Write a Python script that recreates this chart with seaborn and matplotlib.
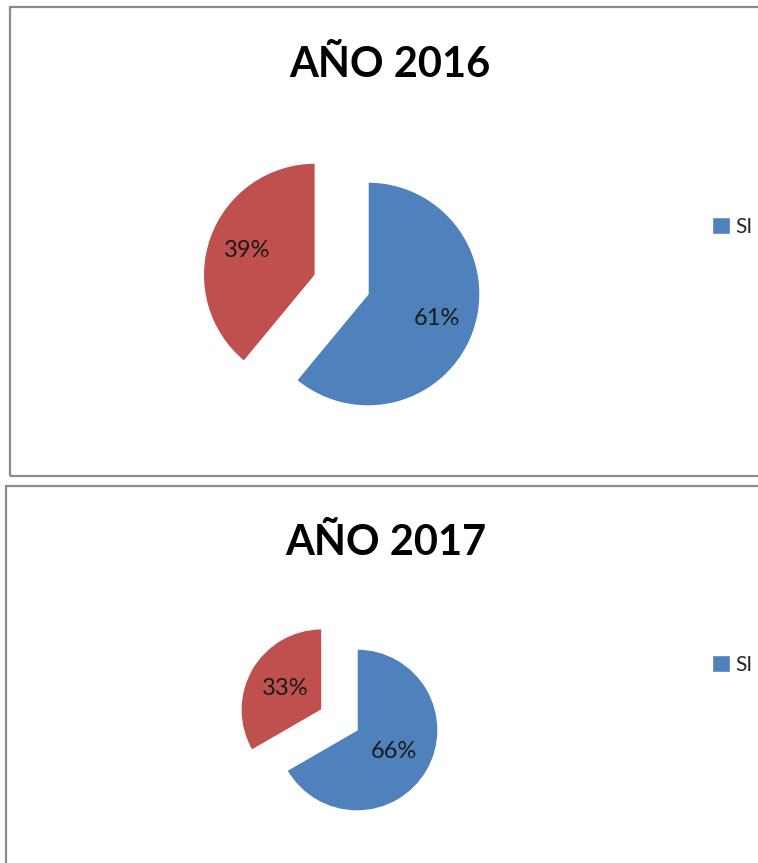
import matplotlib
matplotlib.use("Agg")
import matplotlib.pyplot as plt
from matplotlib.patches import Rectangle
import seaborn as sns

# datos
categories = ["SI", "NO"]
titles = ["AÑO 2016", "AÑO 2017"]
values_2016 = [61, 39]
values_2017 = [66, 33]

sns.set_theme(style="white")
plt.rcParams["font.family"] = ["Lato", "DejaVu Sans"]
colors = ["#4F81BD", "#C0504D"]

W, H = 758, 863
fig = plt.figure(figsize=(W / 100, H / 100), dpi=100)
fig.patch.set_facecolor("white")

# layout in pixels (x0, y0, x1, y1 from top-left)
panels = [
    dict(title=titles[0], values=values_2016, box=(10, 7, 770, 476),
         center=(368, 294), radius=112, title_xy=(390, 77), legend_y=227, pctdist=0.65),
    dict(title=titles[1], values=values_2017, box=(6, 486, 770, 880),
         center=(357, 730), radius=81, title_xy=(386, 555), legend_y=665, pctdist=0.52),
]

for p in panels:
    x0, y0, x1, y1 = p["box"]
    fig.add_artist(Rectangle((x0 / W, 1 - y1 / H), (x1 - x0) / W, (y1 - y0) / H,
                             transform=fig.transFigure, fill=False,
                             edgecolor="#8a8a8a", linewidth=1.6))

    cx, cy = p["center"]
    r = p["radius"]
    s = 1.7 * r
    ax = fig.add_axes([(cx - s) / W, 1 - (cy + s) / H, 2 * s / W, 2 * s / H])
    lbls = iter([f"{v}%" for v in p["values"]])
    wedges, texts, autotexts = ax.pie(
        p["values"], colors=colors, startangle=90, counterclock=False,
        explode=[0, 0.5], autopct=lambda pct: next(lbls),
        pctdistance=p["pctdist"],
        textprops=dict(fontsize=17, color="#1a1a1a"))
    ax.set_xlim(-s / r, s / r)
    ax.set_ylim(-s / r, s / r)
    ax.axis("off")

    tx, ty = p["title_xy"]
    fig.text(tx / W, 1 - ty / H, p["title"], ha="center", va="baseline",
             fontsize=30, fontweight="bold", color="black")

    ax.legend([wedges[0]], [categories[0]], loc="center left",
              bbox_to_anchor=(712 / W, 1 - p["legend_y"] / H),
              bbox_transform=fig.transFigure, frameon=False, fontsize=15,
              handlelength=0.85, handleheight=0.85, handletextpad=0.25,
              borderpad=0, borderaxespad=0)

fig.savefig("out.png", dpi=100)
